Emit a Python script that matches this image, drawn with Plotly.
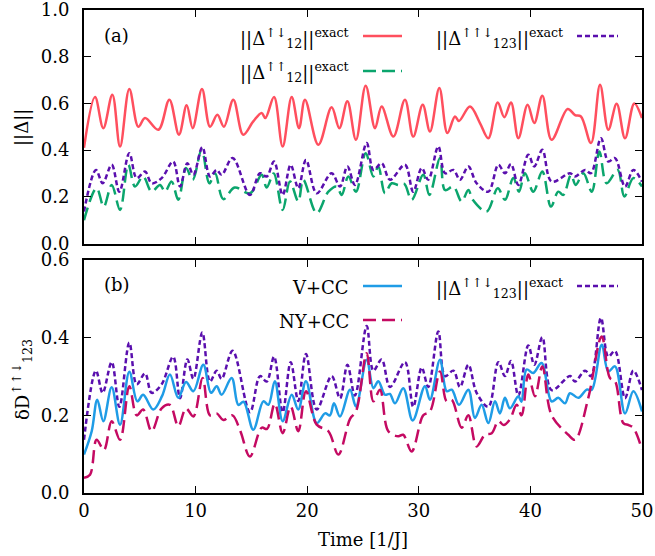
import plotly.graph_objects as go

# ||Delta_12 (up,down)||  exact
t_red = [0, 0.99, 1.73, 2.54, 3.23, 4.06, 4.87, 5.47, 6.66, 7.65, 8.51, 9.2, 9.74, 10.57, 11.29,
         11.95, 12.54, 13.38, 14.27, 15.17, 15.92, 16.25, 17.03, 17.8, 18.61, 19.27, 19.8, 21.0,
         22.19, 22.88, 23.6, 24.37, 25.24, 26.08, 26.67, 27.72, 28.76, 29.5, 30.35, 31.0, 31.84,
         32.56, 33.24, 33.6, 34.59, 35.48, 36.23, 37.07, 37.66, 38.26, 38.92, 39.75, 40.35, 41.07,
         41.9, 43.34, 44.0, 44.53, 45.43, 46.24, 46.98, 47.73, 48.48, 49.31, 50]
v_red = [0.41, 0.627, 0.494, 0.637, 0.415, 0.662, 0.50, 0.537, 0.487, 0.616, 0.466, 0.592, 0.494,
         0.662, 0.50, 0.551, 0.50, 0.616, 0.466, 0.523, 0.559, 0.537, 0.627, 0.415, 0.627, 0.494,
         0.616, 0.423, 0.583, 0.494, 0.609, 0.444, 0.676, 0.494, 0.587, 0.458, 0.616, 0.458, 0.594,
         0.48, 0.666, 0.473, 0.544, 0.525, 0.587, 0.516, 0.451, 0.604, 0.541, 0.604, 0.451, 0.594,
         0.516, 0.633, 0.444, 0.576, 0.55, 0.544, 0.43, 0.68, 0.487, 0.598, 0.451, 0.60, 0.537]

# ||Delta_12 (up,up)||  exact
t_green = [0, 1.13, 1.77, 2.48, 3.23, 3.97, 4.57, 5.3, 6.06, 6.81, 7.26, 7.85, 8.45, 9.14, 9.74,
           10.54, 11.23, 11.74, 12.48, 13.5, 14.87, 15.92, 16.37, 17.0, 17.8, 18.46, 19.2, 19.65,
           20.85, 21.9, 22.64, 23.09, 23.69, 24.37, 25.24, 25.93, 26.37, 26.97, 27.57, 28.2, 28.7,
           29.36, 30.4, 30.95, 31.9, 32.35, 33.1, 33.84, 34.44, 34.84, 36.08, 37.08, 37.72, 38.47,
           38.98, 39.51, 40.26, 41.07, 41.84, 42.5, 42.95, 43.64, 44.06, 44.75, 45.5, 46.18, 46.83,
           47.82, 48.42, 49.22, 50]
v_green = [0.10, 0.237, 0.158, 0.251, 0.144, 0.337, 0.244, 0.287, 0.222, 0.251, 0.222, 0.265,
           0.187, 0.323, 0.273, 0.401, 0.258, 0.301, 0.19, 0.24, 0.215, 0.294, 0.24, 0.30, 0.144,
           0.265, 0.18, 0.273, 0.13, 0.222, 0.244, 0.208, 0.287, 0.222, 0.387, 0.287, 0.33, 0.215,
           0.258, 0.25, 0.255, 0.187, 0.294, 0.208, 0.366, 0.229, 0.244, 0.18, 0.229, 0.187, 0.137,
           0.237, 0.187, 0.28, 0.222, 0.301, 0.222, 0.308, 0.158, 0.222, 0.208, 0.294, 0.251, 0.301,
           0.222, 0.394, 0.258, 0.315, 0.201, 0.28, 0.244]

# ||Delta_123 (up,up,down)||  exact  (shown in both panels)
t_purple = [0, 1.07, 1.67, 2.48, 3.17, 4.06, 4.72, 5.47, 6.06, 6.96, 7.99, 8.6, 9.26, 9.8, 10.6,
            11.29, 11.89, 12.33, 13.32, 14.87, 15.77, 16.37, 17.03, 17.8, 18.52, 19.2, 19.89,
            20.85, 22.19, 22.94, 23.6, 24.28, 25.33, 25.93, 26.67, 27.42, 28.76, 29.5, 30.26,
            30.85, 31.75, 32.35, 33.1, 33.69, 34.44, 35.18, 36.23, 37.13, 37.72, 38.26, 38.92,
            39.81, 40.35, 41.07, 41.9, 43.55, 43.99, 44.9, 45.43, 46.32, 46.98, 47.58, 48.48,
            49.22, 50]
v_purple = [0.137, 0.315, 0.258, 0.337, 0.222, 0.387, 0.28, 0.308, 0.258, 0.28, 0.351, 0.244,
            0.344, 0.294, 0.413, 0.287, 0.315, 0.294, 0.366, 0.208, 0.301, 0.287, 0.351, 0.208,
            0.337, 0.237, 0.358, 0.215, 0.301, 0.244, 0.33, 0.251, 0.43, 0.315, 0.344, 0.273,
            0.337, 0.222, 0.323, 0.273, 0.416, 0.301, 0.315, 0.273, 0.33, 0.258, 0.222, 0.337,
            0.301, 0.34, 0.251, 0.38, 0.33, 0.401, 0.265, 0.301, 0.287, 0.315, 0.301, 0.451,
            0.351, 0.366, 0.244, 0.315, 0.265]

# V+CC
t_blue = [0, 0.69, 1.19, 1.73, 2.48, 3.23, 4.06, 4.78, 5.3, 6.21, 7.0, 7.7, 8.45, 9.14, 9.8,
          10.69, 11.38, 11.89, 12.33, 13.23, 13.83, 14.3, 15.17, 16.07, 16.52, 17.1, 17.8, 18.61,
          19.2, 19.89, 20.85, 21.6, 22.04, 22.4, 22.94, 23.84, 24.37, 25.33, 25.93, 26.37, 26.97,
          27.4, 27.87, 28.61, 29.45, 30.55, 31.0, 31.9, 32.5, 32.95, 33.6, 34.44, 35.03, 35.63,
          36.23, 36.83, 37.27, 37.72, 38.17, 38.92, 39.2, 39.66, 40.26, 41.0, 41.9, 42.5, 43.1,
          43.55, 44.3, 45.04, 45.5, 46.39, 46.98, 47.58, 48.48, 49.22, 50]
v_blue = [0.099, 0.159, 0.24, 0.185, 0.272, 0.176, 0.312, 0.236, 0.253, 0.215, 0.25, 0.305, 0.245,
          0.286, 0.262, 0.33, 0.258, 0.275, 0.253, 0.296, 0.227, 0.235, 0.163, 0.236, 0.227, 0.288,
          0.185, 0.253, 0.215, 0.288, 0.18, 0.205, 0.2, 0.231, 0.197, 0.266, 0.223, 0.343, 0.27,
          0.288, 0.253, 0.255, 0.231, 0.27, 0.187, 0.275, 0.24, 0.343, 0.262, 0.266, 0.227, 0.266,
          0.193, 0.227, 0.18, 0.236, 0.205, 0.245, 0.218, 0.249, 0.235, 0.318, 0.309, 0.335, 0.236,
          0.245, 0.231, 0.257, 0.245, 0.266, 0.266, 0.382, 0.313, 0.326, 0.205, 0.262, 0.21]

# NY+CC
t_mag = [0, 0.54, 1.13, 1.79, 2.48, 3.23, 4.06, 4.72, 5.3, 6.06, 6.96, 7.7, 8.45, 9.14, 9.8,
         10.63, 11.29, 11.89, 12.48, 13.3, 14.0, 14.87, 15.92, 16.4, 17.1, 17.8, 18.52, 19.2,
         19.89, 20.85, 21.9, 22.79, 23.84, 24.37, 25.33, 25.93, 26.52, 27.27, 28.16, 28.6, 29.36,
         30.4, 31.0, 31.9, 32.5, 32.95, 33.84, 34.44, 35.18, 35.93, 36.53, 37.13, 37.6, 38.17,
         38.77, 39.21, 39.81, 40.41, 41.07, 41.9, 43.4, 44.0, 45.19, 46.39, 47.13, 47.58, 48.33,
         48.8, 49.22, 50]
v_mag = [0.039, 0.047, 0.137, 0.111, 0.185, 0.137, 0.275, 0.20, 0.215, 0.159, 0.218, 0.227, 0.172,
         0.218, 0.197, 0.296, 0.20, 0.205, 0.188, 0.20, 0.16, 0.094, 0.168, 0.165, 0.23, 0.154,
         0.223, 0.159, 0.262, 0.176, 0.159, 0.099, 0.191, 0.21, 0.36, 0.236, 0.266, 0.159, 0.146,
         0.15, 0.107, 0.20, 0.21, 0.313, 0.236, 0.24, 0.168, 0.20, 0.12, 0.15, 0.154, 0.185, 0.175,
         0.19, 0.227, 0.20, 0.305, 0.249, 0.326, 0.20, 0.15, 0.137, 0.245, 0.403, 0.296, 0.288,
         0.18, 0.175, 0.168, 0.112]

RED = '#ff4f5e'
GREEN = '#0ba56d'
PURPLE = '#5a0fae'
BLUE = '#1f9ce6'
MAG = '#c40a62'
FONT = 'DejaVu Serif'
FS = 18

lbl_red = '||Δ<sup>↑↓</sup><sub>12</sub>||<sup>exact</sup>'
lbl_green = '||Δ<sup>↑↑</sup><sub>12</sub>||<sup>exact</sup>'
lbl_purple = '||Δ<sup>↑↑↓</sup><sub>123</sub>||<sup>exact</sup>'

fig = go.Figure()
sp = dict(mode='lines', line_shape='spline', showlegend=False, hoverinfo='skip')
fig.add_trace(go.Scatter(x=t_red, y=v_red, line=dict(color=RED, width=2.5), xaxis='x', yaxis='y', **sp))
fig.add_trace(go.Scatter(x=t_green, y=v_green, line=dict(color=GREEN, width=2.5, dash='13px,6px'), xaxis='x', yaxis='y', **sp))
fig.add_trace(go.Scatter(x=t_purple, y=v_purple, line=dict(color=PURPLE, width=2.5, dash='5px,3px'), xaxis='x', yaxis='y', **sp))
fig.add_trace(go.Scatter(x=t_purple, y=v_purple, line=dict(color=PURPLE, width=2.5, dash='5px,3px'), xaxis='x2', yaxis='y2', **sp))
fig.add_trace(go.Scatter(x=t_blue, y=v_blue, line=dict(color=BLUE, width=2.5), xaxis='x2', yaxis='y2', **sp))
fig.add_trace(go.Scatter(x=t_mag, y=v_mag, line=dict(color=MAG, width=2.5, dash='13px,6px'), xaxis='x2', yaxis='y2', **sp))

W, H = 655, 556
# plot area in pixels: x 84..642, y 10..493
L, R, T, B = 84, 642, 10, 493
def px(x):
    return (x - L) / (R - L)
def py(y):
    return (B - y) / (B - T)

axcommon = dict(showline=True, linecolor='black', linewidth=2, mirror='allticks', ticks='inside',
                ticklen=7, tickwidth=1.2, tickcolor='black', showgrid=False, zeroline=False,
                automargin=False, ticklabeloverflow='allow',
                tickfont=dict(family=FONT, size=FS, color='black'))
fig.update_layout(
    width=W, height=H,
    margin=dict(l=L, r=W - R, t=T, b=H - B),
    plot_bgcolor='white', paper_bgcolor='white',
    font=dict(family=FONT, size=FS, color='black'),
    xaxis=dict(domain=[0, 1], anchor='y', range=[0, 50], dtick=10, showticklabels=False,
               matches='x2', **axcommon),
    yaxis=dict(domain=[py(243.5), 1], anchor='x', range=[0, 1], dtick=0.2, tickformat='.1f',
               ticklabelstandoff=9, **axcommon),
    xaxis2=dict(domain=[0, 1], anchor='y2', range=[0, 50], dtick=10, **axcommon),
    yaxis2=dict(domain=[0, py(260)], anchor='x2', range=[0, 0.6], dtick=0.2, tickformat='.1f',
                ticklabelstandoff=9, **axcommon),
)

ann = []
def text(x, y, s, anchor='right', **kw):
    ann.append(dict(x=px(x), y=py(y), xref='paper', yref='paper', text=s, showarrow=False,
                    xanchor=anchor, yanchor='middle', font=dict(family=FONT, size=FS, color='black'), **kw))

text(102, 36, '(a)', anchor='left')
text(102, 285, '(b)', anchor='left')
text(351, 38, lbl_red)
text(351, 72, lbl_green)
text(565, 38, lbl_purple)
text(351, 287, 'V+CC')
text(351, 321, 'NY+CC')
text(565, 288, lbl_purple)
text(22, 128, '||Δ||', anchor='center', textangle=-90)
text(22, 380, 'δD<sup>↑↑↓</sup><sub>123</sub>', anchor='center', textangle=-90)
text(363, 539, 'Time [1/J]', anchor='center')
fig.update_layout(annotations=ann)

shapes = []
def sample(x0, x1, y, color, dash='solid'):
    shapes.append(dict(type='line', xref='paper', yref='paper', x0=px(x0), x1=px(x1),
                       y0=py(y), y1=py(y), line=dict(color=color, width=2.5, dash=dash)))

sample(363, 402, 36, RED)
sample(363, 402, 71, GREEN, '13px,6px')
sample(577, 618, 36, PURPLE, '5px,3px')
sample(363, 402, 286, BLUE)
sample(363, 402, 320, MAG, '13px,6px')
sample(577, 618, 286, PURPLE, '5px,3px')
fig.update_layout(shapes=shapes)

# drop the page's default body margin so the figure sits at the window's corner
fig.write_html("out.html", config={'displayModeBar': False},
               post_script="document.body.style.margin = '0px';")
